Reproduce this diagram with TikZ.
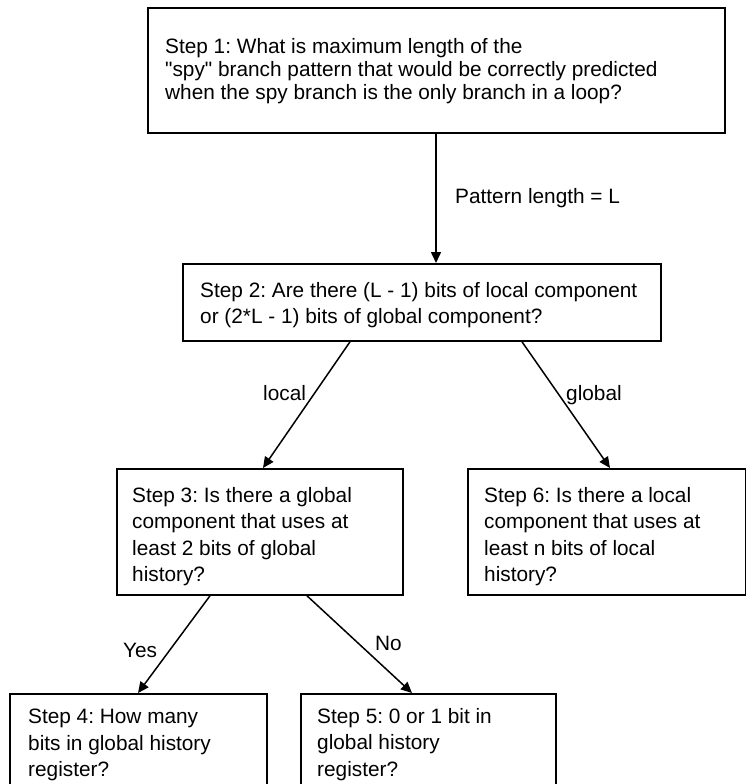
\documentclass[tikz,border=0pt]{standalone}
\usepackage{fontspec}
\setmainfont{Liberation Sans}
% family without the TeX input mapping, so " stays a straight quote
\newfontfamily\plainsans{Liberation Sans}
\usetikzlibrary{arrows.meta}
\frenchspacing

\begin{document}
\begin{tikzpicture}[x=1pt,y=-1pt,
  stepbox/.style={draw, line width=1.8pt, inner sep=0pt, anchor=north west},
  boxtext/.style={inner sep=0pt, anchor=north west, align=left,
    font=\plainsans\fontsize{20.8}{26.5}\selectfont},
  edgelabel/.style={inner sep=0pt, anchor=base west,
    font=\plainsans\fontsize{20.8}{25}\selectfont},
  flow/.style={line width=1.5pt, -{Triangle[length=11pt,width=10pt]}}]

  \clip (0,0) rectangle (746,784);

  % boxes
  \node[stepbox, minimum width=577pt, minimum height=125pt] (b1) at (147,7) {};
  \node[stepbox, minimum width=478pt, minimum height=77pt]  (b2) at (182,263) {};
  \node[stepbox, minimum width=286pt, minimum height=126pt] (b3) at (116,468) {};
  \node[stepbox, minimum width=278pt, minimum height=126pt] (b6) at (467,468) {};
  \node[stepbox, minimum width=257pt, minimum height=120pt] (b4) at (9,693) {};
  \node[stepbox, minimum width=255pt, minimum height=120pt] (b5) at (300,693) {};

  % box texts
  \node[boxtext, font=\plainsans\fontsize{20.8}{23}\selectfont] (t1) at (165,38)
    {Step 1: What is maximum length of the\\
     "spy" branch pattern that would be correctly predicted\\
     when the spy branch is the only branch in a loop?};
  \node[boxtext] (t2) at (200,282)
    {Step 2: Are there (L - 1) bits of local component\\
     or (2*L - 1) bits of global component?};
  \node[boxtext] (t3) at (132,487)
    {Step 3: Is there a global\\component that uses at\\least 2 bits of global\\history?};
  \node[boxtext] (t6) at (484,487)
    {Step 6: Is there a local\\component that uses at\\least n bits of local\\history?};
  \node[boxtext] (t4) at (28,709)
    {Step 4: How many\\bits in global history\\register?};
  \node[boxtext] (t5) at (317,708)
    {Step 5: 0 or 1 bit in\\global history\\register?};

  % connectors
  \draw[flow] ([xshift=289pt]b1.south west) -- ([xshift=254pt]b2.north west);
  \draw[flow] ([xshift=168pt]b2.south west) -- ([xshift=147pt]b3.north west);
  \draw[flow] ([xshift=340pt]b2.south west) -- ([xshift=143pt]b6.north west);
  \draw[flow] ([xshift=94pt]b3.south west)  -- ([xshift=129pt]b4.north west);
  \draw[flow] ([xshift=191pt]b3.south west) -- ([xshift=112pt]b5.north west);

  % connector labels
  \node[edgelabel] (l1) at (455,203) {Pattern length = L};
  \node[edgelabel] (l2) at (263,400) {local};
  \node[edgelabel] (l3) at (566,400) {global};
  \node[edgelabel] (l4) at (123,657) {Yes};
  \node[edgelabel] (l5) at (375,650) {No};
\end{tikzpicture}
\end{document}
